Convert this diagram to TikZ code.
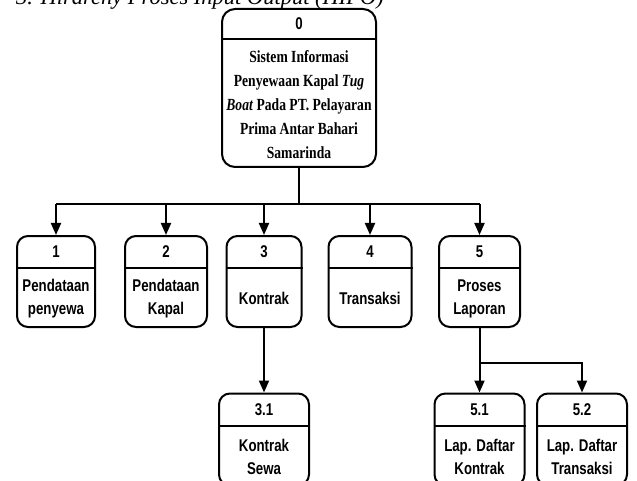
\documentclass[tikz,border=0pt]{standalone}
\usepackage{fontspec}
\setmainfont{Liberation Serif}
\newfontfamily\nsans[FakeStretch=0.78]{Liberation Sans}
\newfontfamily\nserif[FakeStretch=0.8]{Liberation Serif}
\usetikzlibrary{arrows.meta}
\tikzset{
  boxframe/.style={draw, line width=2pt, rounded corners=11pt, inner sep=0pt},
  divline/.style={line width=2pt},
  labeltext/.style={font=\nsans\bfseries\fontsize{17}{23}\selectfont, align=center, inner sep=0pt},
  maintext/.style={font=\nserif\bfseries\fontsize{17}{24}\selectfont, align=center, inner sep=0pt},
  link/.style={line width=2pt},
  arr/.style={line width=2pt, -{Triangle[length=12pt,width=10pt]}},
  titletext/.style={font=\fontsize{22.5}{27}\selectfont\itshape, inner sep=0pt, anchor=base west}
}
\begin{document}
\begin{tikzpicture}[x=1pt,y=-1pt]
\useasboundingbox (0,0) rectangle (637,481);
\clip (0,0) rectangle (637,481);

% title (cut off at the top)
\node[titletext] (title) at (16,5) {3. Hirarchy Proses Input Output (HIPO)};

% main node 0
\node[boxframe, rounded corners=13pt, minimum width=154pt, minimum height=158pt] (n0) at (299,88) {};
\draw[divline] ([yshift=-31pt]n0.north west) -- ([yshift=-31pt]n0.north east);
\node[labeltext] (n0n) at (299,24) {0};
\node[maintext] (n0t) at (299,104.5) {Sistem Informasi\\Penyewaan Kapal \textit{Tug}\\\textit{Boat} Pada PT. Pelayaran\\Prima Antar Bahari\\Samarinda};

% level 1 boxes
\node[boxframe, minimum width=78pt, minimum height=91pt] (b1) at (56,281.5) {};
\node[boxframe, minimum width=82pt, minimum height=91pt] (b2) at (166,281.5) {};
\node[boxframe, minimum width=75pt, minimum height=91pt] (b3) at (264,281.5) {};
\node[boxframe, minimum width=83pt, minimum height=91pt] (b4) at (370,281.5) {};
\node[boxframe, minimum width=81pt, minimum height=91pt] (b5) at (479.5,281.5) {};
\foreach \b in {b1,b2,b3,b4,b5}{
  \draw[divline] ([yshift=-33pt]\b.north west) -- ([yshift=-33pt]\b.north east);
}
\node[labeltext] (b1n) at (56,252) {1};
\node[labeltext] (b2n) at (166,252) {2};
\node[labeltext] (b3n) at (264,252) {3};
\node[labeltext] (b4n) at (370,252) {4};
\node[labeltext] (b5n) at (479.5,252) {5};
\node[labeltext] (b1t) at (56,298.5) {Pendataan\\penyewa};
\node[labeltext] (b2t) at (166,298.5) {Pendataan\\Kapal};
\node[labeltext] (b3t) at (264,298.5) {Kontrak};
\node[labeltext] (b4t) at (370,298.5) {Transaksi};
\node[labeltext] (b5t) at (479.5,298.5) {Proses\\Laporan};

% level 2 boxes
\node[boxframe, minimum width=90pt, minimum height=92pt] (b31) at (264,439.5) {};
\node[boxframe, minimum width=90pt, minimum height=92pt] (b51) at (479.5,439.5) {};
\node[boxframe, minimum width=90pt, minimum height=92pt] (b52) at (582,439.5) {};
\foreach \b in {b31,b51,b52}{
  \draw[divline] ([yshift=-33pt]\b.north west) -- ([yshift=-33pt]\b.north east);
}
\node[labeltext] (b31n) at (264,410) {3.1};
\node[labeltext] (b51n) at (479.5,410) {5.1};
\node[labeltext] (b52n) at (582,410) {5.2};
\node[labeltext] (b31t) at (264,456.5) {Kontrak\\Sewa};
\node[labeltext] (b51t) at (479.5,456.5) {Lap. Daftar\\Kontrak};
\node[labeltext] (b52t) at (582,456.5) {Lap. Daftar\\Transaksi};

% connectors
\coordinate (j0) at (299,204);
\draw[link] (n0.south) -- (j0);
\draw[link] (b1.north |- j0) -- (b5.north |- j0);
\foreach \b in {b1,b2,b3,b4,b5}{
  \draw[arr] (\b.north |- j0) -- (\b.north);
}
\draw[arr] (b3.south) -- (b31.north);
\coordinate (j5) at (479.5,363);
\draw[link] (b5.south) -- (j5);
\draw[arr] (j5) -- (b51.north);
\draw[arr] (j5) -- (b52.north |- j5) -- (b52.north);
\end{tikzpicture}
\end{document}
